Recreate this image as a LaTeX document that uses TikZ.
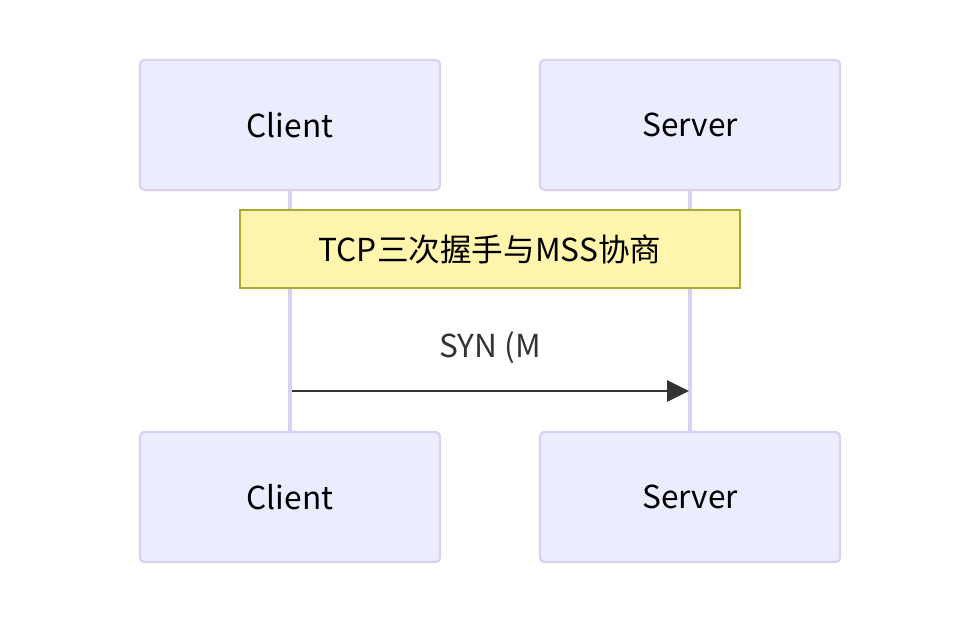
\documentclass[tikz,border=0pt]{standalone}
\usepackage{fontspec}
\setmainfont{Noto Sans CJK SC}
\usepackage{tikz}
\usetikzlibrary{arrows.meta}

\definecolor{actorfill}{HTML}{ECECFF}
\definecolor{actorline}{HTML}{DAD0F3}
\definecolor{notefill}{HTML}{FFF5AD}
\definecolor{noteline}{HTML}{AAAA33}
\definecolor{msgline}{HTML}{333333}

\tikzset{
  actor/.style={draw=actorline, line width=1.2pt, fill=actorfill, rounded corners=2.5pt,
    minimum width=300*0.02cm, minimum height=130*0.02cm, font=\fontsize{18}{20}\selectfont},
  note/.style={draw=noteline, line width=1pt, fill=notefill,
    minimum width=500*0.02cm, minimum height=78*0.02cm, font=\fontsize{18}{20}\selectfont},
  life/.style={draw=actorline, line width=2.2pt},
  msg/.style={draw=msgline, line width=1.4pt, -{Triangle[length=12.5pt,width=12pt]}}
}

\begin{document}
\begin{tikzpicture}[x=0.02cm,y=-0.02cm]
\useasboundingbox (0,0) rectangle (980,624);
\node[actor] (clienttop) at (290,125) {Client};
\node[actor] (servertop) at (690,125) {Server};
\node[actor] (clientbot) at (290,497) {Client};
\node[actor] (serverbot) at (690,497) {Server};
\path[life] (clienttop.south) -- (clientbot.north);
\path[life] (servertop.south) -- (serverbot.north);
\node[note] (hs) at (490,249) {TCP三次握手与MSS协商};
\coordinate (synfrom) at (292,391);
\coordinate (synto) at (689,391);
\draw[msg] (synfrom) -- (synto);
\node[text=msgline, font=\fontsize{18}{20}\selectfont] (synlabel) at (490,348) {SYN (M};
\end{tikzpicture}
\end{document}
